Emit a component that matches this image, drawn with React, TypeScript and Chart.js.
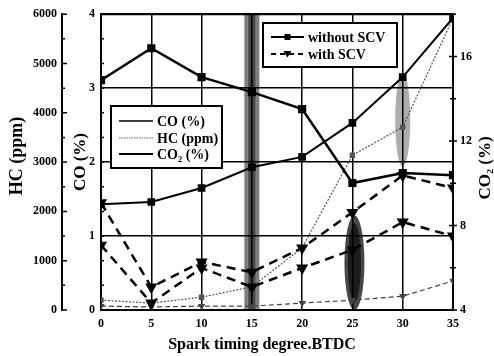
import { useEffect, useRef } from "react";
import { Chart, registerables } from "chart.js";

Chart.register(...registerables);

// Spark timing (degrees BTDC)
const TIMING = [0, 5, 10, 15, 20, 25, 30, 35];

// CO (%) — left inner axis
const CO_WITHOUT = [1.43, 1.46, 1.65, 1.93, 2.07, 2.53, 3.15, 3.95];
const CO_WITH = [1.45, 0.31, 0.65, 0.51, 0.84, 1.32, 1.82, 1.65];

// CO2 (%) — right axis
const CO2_WITHOUT = [14.88, 16.39, 15.02, 14.31, 13.51, 10.01, 10.48, 10.38];
const CO2_WITH = [7.07, 4.33, 5.99, 5.09, 5.99, 6.84, 8.16, 7.5];

// HC (ppm) — left outer axis
const HC_WITHOUT = [200, 140, 260, 470, 1260, 3140, 3710, 5920];
const HC_WITH = [80, 60, 80, 80, 140, 200, 280, 590];

// Tick labels
const X_TICKS = [0, 5, 10, 15, 20, 25, 30, 35];
const CO_TICKS = [0, 1, 2, 3, 4];
const HC_TICKS = [0, 1000, 2000, 3000, 4000, 5000, 6000];
const CO2_TICKS = [4, 8, 12, 16];

// Texts
const X_TITLE = "Spark timing degree.BTDC";
const HC_TITLE = "HC (ppm)";
const CO_TITLE = "CO (%)";
const CO2_TITLE = "CO\u2082 (%)";
const SPECIES_LEGEND = ["CO (%)", "HC (ppm)", "CO\u2082 (%)"];
const MODE_LEGEND = ["without SCV", "with SCV"];

const SERIF = '"Liberation Serif", "Times New Roman", "DejaVu Serif", serif';

const pts = (ys: number[]) => TIMING.map((t, i) => ({ x: t, y: ys[i] }));
const setTicks = (vals: number[]) => (s: any) => {
  s.ticks = vals.map((v) => ({ value: v }));
};
const mids = (vals: number[]) =>
  vals.slice(1).map((v, i) => (v + vals[i]) / 2);
const plain = (v: any) => String(v);

const tickFont = { family: SERIF, size: 12, weight: "bold" as const };

const decorPlugin = {
  id: "decor",
  beforeDatasetsDraw(chart: any) {
    const { ctx, scales } = chart;
    const x = scales.x;
    const y = scales.yCO;
    ctx.save();
    // grey shaded band along 15°
    const top = y.getPixelForValue(4);
    const bot = y.getPixelForValue(0);
    let a = x.getPixelForValue(14.25);
    let b = x.getPixelForValue(15.75);
    ctx.fillStyle = "rgba(0,0,0,0.5)";
    ctx.fillRect(a, top, b - a, bot - top);
    a = x.getPixelForValue(14.65);
    b = x.getPixelForValue(15.35);
    ctx.fillStyle = "rgba(0,0,0,0.45)";
    ctx.fillRect(a, top, b - a, bot - top);

    // grey smudge around 30°
    ctx.fillStyle = "rgba(0,0,0,0.32)";
    ctx.beginPath();
    ctx.ellipse(
      x.getPixelForValue(30),
      y.getPixelForValue(2.57),
      7.5,
      (y.getPixelForValue(1.93) - y.getPixelForValue(3.2)) / 2,
      0,
      0,
      Math.PI * 2
    );
    ctx.fill();

    // dark smudge around 25°
    const cx = x.getPixelForValue(25.2);
    const cy = y.getPixelForValue(0.64);
    const ry = (y.getPixelForValue(0) - y.getPixelForValue(1.28)) / 2;
    ctx.fillStyle = "rgba(0,0,0,0.72)";
    ctx.beginPath();
    ctx.ellipse(cx, cy, 10, ry, 0, 0, Math.PI * 2);
    ctx.fill();
    ctx.fillStyle = "rgba(0,0,0,0.6)";
    ctx.beginPath();
    ctx.ellipse(cx, cy, 6.5, ry - 8, 0, 0, Math.PI * 2);
    ctx.fill();
    ctx.restore();
  },
  afterDatasetsDraw(chart: any) {
    const { ctx } = chart;
    ctx.save();
    const box = (l: number, t: number, r: number, btm: number) => {
      ctx.fillStyle = "#fff";
      ctx.fillRect(l, t, r - l, btm - t);
      ctx.strokeStyle = "#000";
      ctx.lineWidth = 2;
      ctx.strokeRect(l, t, r - l, btm - t);
    };
    ctx.font = `bold 14px ${SERIF}`;
    ctx.textAlign = "left";
    ctx.textBaseline = "middle";

    // species legend
    box(111, 106, 222, 168);
    const rows = [121, 138, 154];
    const styles = [
      { w: 1.5, c: "#000", d: [] as number[] },
      { w: 1.2, c: "#666", d: [1.5, 1] },
      { w: 2, c: "#000", d: [] as number[] },
    ];
    SPECIES_LEGEND.forEach((txt, i) => {
      ctx.strokeStyle = styles[i].c;
      ctx.lineWidth = styles[i].w;
      ctx.setLineDash(styles[i].d);
      ctx.beginPath();
      ctx.moveTo(119, rows[i]);
      ctx.lineTo(153, rows[i]);
      ctx.stroke();
      ctx.setLineDash([]);
      ctx.fillStyle = "#000";
      ctx.fillText(txt, 157, rows[i] + 1);
    });

    // SCV legend
    box(263, 23, 397, 67);
    const r2 = [37, 54];
    MODE_LEGEND.forEach((txt, i) => {
      ctx.strokeStyle = "#000";
      ctx.lineWidth = 2;
      ctx.setLineDash(i === 0 ? [] : [5, 4]);
      ctx.beginPath();
      ctx.moveTo(271, r2[i]);
      ctx.lineTo(304, r2[i]);
      ctx.stroke();
      ctx.setLineDash([]);
      ctx.fillStyle = "#000";
      ctx.beginPath();
      if (i === 0) {
        ctx.rect(284.5, r2[i] - 3, 6, 6);
      } else {
        ctx.moveTo(283.5, r2[i] - 3);
        ctx.lineTo(291.5, r2[i] - 3);
        ctx.lineTo(287.5, r2[i] + 3.5);
        ctx.closePath();
      }
      ctx.fill();
      ctx.fillText(txt, 308, r2[i] + 1);
    });
    ctx.restore();
  },
  afterDraw(chart: any) {
    const { ctx, chartArea, scales } = chart;
    const { left, right, top, bottom } = chartArea;
    ctx.save();
    ctx.strokeStyle = "#000";

    // top edge of the frame
    ctx.lineWidth = 2;
    ctx.beginPath();
    ctx.moveTo(left - 1, top);
    ctx.lineTo(right + 1, top);
    ctx.stroke();

    // HC axis tick marks
    const hc = scales.yHC;
    const hx = hc.right;
    ctx.lineWidth = 1.5;
    ctx.beginPath();
    HC_TICKS.forEach((v) => {
      const py = hc.getPixelForValue(v);
      ctx.moveTo(hx, py);
      ctx.lineTo(hx + 5, py);
      ctx.moveTo(left, py);
      ctx.lineTo(left + 3, py);
    });
    mids(HC_TICKS).forEach((v) => {
      const py = hc.getPixelForValue(v);
      ctx.moveTo(hx, py);
      ctx.lineTo(hx + 3, py);
      ctx.moveTo(left, py);
      ctx.lineTo(left + 3, py);
    });
    // CO2 axis tick marks
    const c2 = scales.yCO2;
    CO2_TICKS.forEach((v) => {
      const py = c2.getPixelForValue(v);
      ctx.moveTo(right - 4, py);
      ctx.lineTo(right + 4, py);
    });
    [...mids(CO2_TICKS), 18].forEach((v) => {
      const py = c2.getPixelForValue(v);
      ctx.moveTo(right - 3, py);
      ctx.lineTo(right + 3, py);
    });
    ctx.stroke();

    // axis titles
    ctx.fillStyle = "#000";
    ctx.textAlign = "center";
    ctx.textBaseline = "middle";
    ctx.font = `bold 16px ${SERIF}`;
    ctx.fillText(X_TITLE, 262, bottom + 35);
    const vert = (txt: string, px: number, py: number) => {
      ctx.save();
      ctx.translate(px, py);
      ctx.rotate(-Math.PI / 2);
      ctx.fillText(txt, 0, 0);
      ctx.restore();
    };
    ctx.font = `bold 18px ${SERIF}`;
    vert(HC_TITLE, 17, 156);
    ctx.font = `bold 17px ${SERIF}`;
    vert(CO_TITLE, 81, 162);
    vert(CO2_TITLE, 486, 168);
    ctx.restore();
  },
};

export default function App() {
  const ref = useRef<HTMLCanvasElement | null>(null);

  useEffect(() => {
    if (!ref.current) return;
    const solid = {
      borderColor: "#000",
      pointBackgroundColor: "#000",
      pointBorderColor: "#000",
      fill: false,
      tension: 0,
    };
    const chart = new Chart(ref.current, {
      type: "line",
      data: {
        datasets: [
          {
            ...solid,
            label: "CO without SCV",
            data: pts(CO_WITHOUT),
            yAxisID: "yCO",
            borderWidth: 2,
            pointStyle: "rect",
            pointRadius: 4,
          },
          {
            ...solid,
            label: "CO2 without SCV",
            data: pts(CO2_WITHOUT),
            yAxisID: "yCO2",
            borderWidth: 2.5,
            pointStyle: "rect",
            pointRadius: 4,
          },
          {
            ...solid,
            label: "CO with SCV",
            data: pts(CO_WITH),
            yAxisID: "yCO",
            borderWidth: 2.5,
            borderDash: [9, 6],
            pointStyle: "triangle",
            rotation: 180,
            pointRadius: 4.5,
          },
          {
            ...solid,
            label: "CO2 with SCV",
            data: pts(CO2_WITH),
            yAxisID: "yCO2",
            borderWidth: 2.5,
            borderDash: [9, 6],
            pointStyle: "triangle",
            rotation: 180,
            pointRadius: 4.5,
          },
          {
            label: "HC without SCV",
            data: pts(HC_WITHOUT),
            yAxisID: "yHC",
            borderColor: "#555",
            pointBackgroundColor: "#555",
            pointBorderColor: "#555",
            borderWidth: 1.2,
            borderDash: [2, 1.5],
            pointStyle: "rect",
            pointRadius: 3,
            fill: false,
            tension: 0,
          },
          {
            label: "HC with SCV",
            data: pts(HC_WITH),
            yAxisID: "yHC",
            borderColor: "#444",
            pointBackgroundColor: "#444",
            pointBorderColor: "#444",
            borderWidth: 1.2,
            borderDash: [5, 3],
            pointStyle: "triangle",
            rotation: 180,
            pointRadius: 3,
            fill: false,
            tension: 0,
          },
        ],
      },
      options: {
        animation: false,
        responsive: false,
        events: [],
        layout: { padding: { top: 14, left: 0, right: 0, bottom: 0 } },
        plugins: { legend: { display: false }, tooltip: { enabled: false } },
        scales: {
          x: {
            type: "linear",
            min: 0,
            max: 35,
            afterBuildTicks: setTicks(X_TICKS),
            afterFit: (s: any) => {
              s.height = 46;
            },
            grid: { color: "#000", lineWidth: 1.5, drawTicks: false },
            border: { color: "#000", width: 2 },
            ticks: {
              color: "#000",
              font: tickFont,
              padding: 7,
              maxRotation: 0,
              autoSkip: false,
              callback: plain,
            },
          },
          yHC: {
            type: "linear",
            position: "left",
            weight: 2,
            min: 0,
            max: 6000,
            afterBuildTicks: setTicks(HC_TICKS),
            afterFit: (s: any) => {
              s.width = 62;
            },
            grid: { drawOnChartArea: false, drawTicks: false },
            border: { color: "#000", width: 2 },
            ticks: { color: "#000", font: tickFont, padding: 5, callback: plain },
          },
          yCO: {
            type: "linear",
            position: "left",
            weight: 1,
            min: 0,
            max: 4,
            afterBuildTicks: setTicks(CO_TICKS),
            afterFit: (s: any) => {
              s.width = 39;
            },
            grid: { color: "#000", lineWidth: 1.5, drawTicks: false },
            border: { color: "#000", width: 2 },
            ticks: { color: "#000", font: tickFont, padding: 6, callback: plain },
          },
          yCO2: {
            type: "linear",
            position: "right",
            min: 4,
            max: 18,
            afterBuildTicks: setTicks(CO2_TICKS),
            afterFit: (s: any) => {
              s.width = 41;
            },
            grid: { drawOnChartArea: false, drawTicks: false },
            border: { color: "#000", width: 2 },
            ticks: { color: "#000", font: tickFont, padding: 7, callback: plain },
          },
        },
      } as any,
      plugins: [decorPlugin],
    });
    return () => chart.destroy();
  }, []);

  return (
    <div
      style={{
        position: "fixed",
        left: 0,
        top: 0,
        width: 494,
        height: 356,
        background: "#fff",
      }}
    >
      <canvas ref={ref} width={494} height={356} />
    </div>
  );
}
